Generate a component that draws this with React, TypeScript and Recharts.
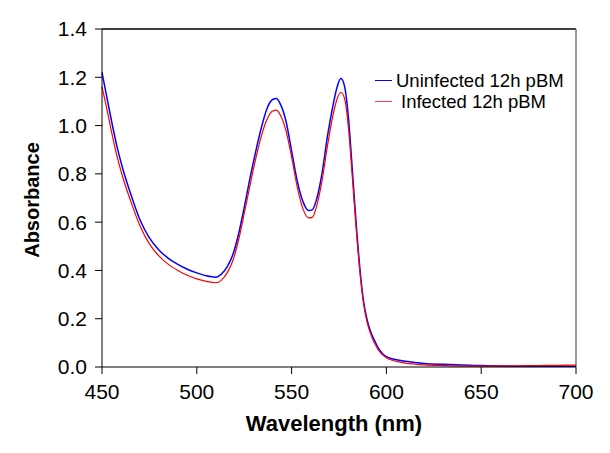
import React from "react";
import { LineChart, Line, XAxis, YAxis, ReferenceLine } from "recharts";

const wavelengths = [
  450, 452, 455, 458, 461, 465, 470, 475, 480, 485, 490, 495, 500, 505, 510,
  513, 516, 519, 522, 525, 528, 531, 534, 537, 540, 542, 544, 547, 550, 553,
  556, 559, 561, 563, 566, 569, 572, 574, 576, 578, 580, 582, 584, 586, 588,
  590, 592, 594, 596, 598, 600, 603, 606, 610, 615, 620, 630, 640, 650, 660,
  670, 680, 690, 700,
];

const uninfected = [
  1.22, 1.14, 1.02, 0.91, 0.82, 0.72, 0.61, 0.535, 0.485, 0.45, 0.425, 0.405,
  0.39, 0.378, 0.372, 0.385, 0.415, 0.465, 0.55, 0.66, 0.78, 0.89, 0.99, 1.07,
  1.108, 1.112, 1.09, 1.02, 0.895, 0.77, 0.685, 0.648, 0.652, 0.69, 0.8, 0.96,
  1.09, 1.16, 1.195, 1.16, 1.03, 0.82, 0.6, 0.41, 0.27, 0.19, 0.14, 0.105,
  0.075, 0.055, 0.043, 0.034, 0.029, 0.024, 0.019, 0.015, 0.011, 0.008, 0.006,
  0.004, 0.003, 0.003, 0.003, 0.003,
];

const infected = [
  1.16, 1.09, 0.975, 0.87, 0.785, 0.69, 0.585, 0.51, 0.46, 0.425, 0.4, 0.38,
  0.365, 0.355, 0.349, 0.36, 0.39, 0.44, 0.525, 0.635, 0.75, 0.86, 0.955,
  1.025, 1.06, 1.064, 1.045, 0.98, 0.87, 0.745, 0.655, 0.618, 0.62, 0.66, 0.77,
  0.92, 1.05, 1.11, 1.138, 1.11, 0.99, 0.79, 0.58, 0.395, 0.26, 0.18, 0.13,
  0.095, 0.068, 0.05, 0.038, 0.028, 0.022, 0.016, 0.012, 0.009, 0.006, 0.004,
  0.004, 0.004, 0.005, 0.006, 0.007, 0.008,
];

const xTicks = [450, 500, 550, 600, 650, 700];
const yTicks = [0, 0.2, 0.4, 0.6, 0.8, 1.0, 1.2, 1.4];

const seriesNames = ["Uninfected 12h pBM", "Infected 12h pBM"];

const data = wavelengths.map((w, i) => ({
  w,
  uninfected: uninfected[i],
  infected: infected[i],
}));

const FONT = "'Liberation Sans', Arial, sans-serif";

// legend drawn as an overlay so it doesn't eat into the plot area
function LegendBox() {
  const items = [
    { name: seriesNames[0], color: "#0000ff", pad: 0 },
    { name: seriesNames[1], color: "#ff4040", pad: 5 },
  ];
  return (
    <div
      style={{
        position: "absolute",
        left: 375,
        top: 70,
        fontFamily: FONT,
        fontSize: 18.5,
        color: "#000",
        lineHeight: "21px",
        whiteSpace: "nowrap",
      }}
    >
      {items.map((it) => (
        <div key={it.name} style={{ display: "flex", alignItems: "center" }}>
          <span
            style={{
              display: "inline-block",
              width: 17,
              height: 0,
              borderTop: `1.5px solid ${it.color}`,
              marginRight: 4 + it.pad,
            }}
          />
          <span>{it.name}</span>
        </div>
      ))}
    </div>
  );
}

export default function App() {
  return (
    <div
      style={{
        position: "absolute",
        left: 0,
        top: 0,
        width: 610,
        height: 453,
        background: "#fff",
      }}
    >
      <LineChart
        width={610}
        height={453}
        data={data}
        margin={{ top: 29, right: 34, left: 0, bottom: 0 }}
      >
        <XAxis
          dataKey="w"
          type="number"
          domain={[450, 700]}
          ticks={xTicks}
          height={86}
          tickSize={7}
          tickMargin={10}
          stroke="#000"
          tick={{ fill: "#000", fontSize: 21, fontFamily: FONT }}
          label={{
            content: () => (
              <text
                x={334}
                y={431}
                textAnchor="middle"
                fontFamily={FONT}
                fontWeight="bold"
                fontSize={22}
                fill="#000"
              >
                Wavelength (nm)
              </text>
            ),
          }}
        />
        <YAxis
          type="number"
          domain={[0, 1.4]}
          ticks={yTicks}
          width={102}
          tickSize={7}
          tickMargin={8}
          stroke="#000"
          tickFormatter={(v: number) => v.toFixed(1)}
          tick={{ fill: "#000", fontSize: 21, fontFamily: FONT }}
          label={{
            content: () => (
              <text
                x={34}
                y={200}
                transform="rotate(-90 34 200)"
                textAnchor="middle"
                dominantBaseline="middle"
                fontFamily={FONT}
                fontWeight="bold"
                fontSize={20}
                fill="#000"
              >
                Absorbance
              </text>
            ),
          }}
        />
        <ReferenceLine y={1.4} stroke="#000" strokeWidth={1.5} />
        <ReferenceLine x={700} stroke="#777" strokeWidth={1.5} />
        <Line
          dataKey="uninfected"
          name={seriesNames[0]}
          type="monotone"
          stroke="#0000ff"
          strokeWidth={1.5}
          dot={false}
          isAnimationActive={false}
        />
        <Line
          dataKey="infected"
          name={seriesNames[1]}
          type="monotone"
          stroke="#ff0000"
          strokeWidth={1.2}
          dot={false}
          isAnimationActive={false}
        />
      </LineChart>
      <LegendBox />
    </div>
  );
}
